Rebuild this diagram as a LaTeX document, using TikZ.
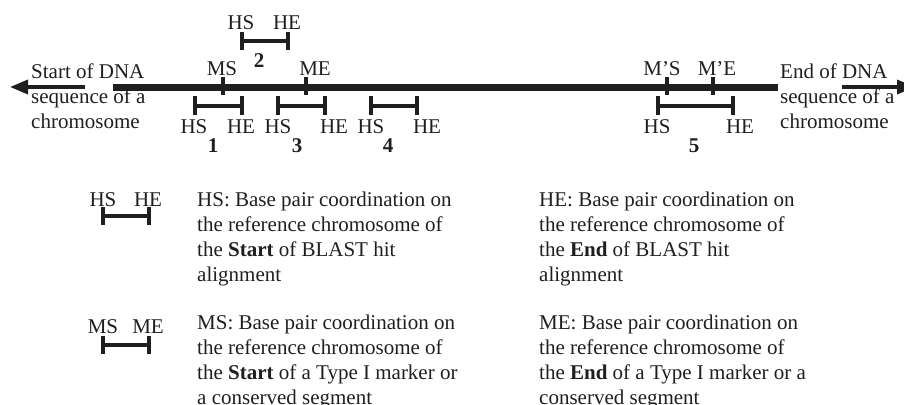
\documentclass[tikz,border=0pt]{standalone}
\usepackage{fontspec}
\setmainfont{Liberation Serif}
\usetikzlibrary{arrows.meta}
\newcommand\dfont{\fontsize{21}{25}\selectfont}
\newcommand\hitbar[4]{%
  \draw[barline] (#1,#3) -- (#1,#4);
  \draw[barline] (#2,#3) -- (#2,#4);
  \draw[barline] (#1,{(#3+#4)/2}) -- (#2,{(#3+#4)/2});}
\tikzset{
  lbl/.style={font=\dfont, inner sep=0pt, anchor=base},
  num/.style={font=\dfont\bfseries, inner sep=0pt, anchor=base},
  para/.style={font=\dfont, inner sep=0pt, anchor=base west, align=left},
  barline/.style={line width=4pt, color=black!88},
  tickline/.style={line width=4pt, color=black!88},
  chrom/.style={line width=7pt, color=black!88},
  dnaarrow/.style={line width=3.5pt, color=black!88, -{Triangle[length=18pt,width=14pt]}},
}
\begin{document}
\begin{tikzpicture}[x=1pt,y=-1pt, text=black!88]
\useasboundingbox (0,0) rectangle (904,404);
% chromosome
\coordinate (cL) at (113,87);
\coordinate (cR) at (778,87);
\draw[chrom] (cL) -- (cR);
\coordinate (laS) at (85,87);
\coordinate (laE) at (10,87);
\draw[dnaarrow] (laS) -- (laE);
\coordinate (raS) at (842,87);
\coordinate (raE) at (915,87);
\draw[dnaarrow] (raS) -- (raE);
% end texts (anchored at the baseline of the last line)
\node[para] (start) at (31,128) {Start of DNA\\sequence of a\\chromosome};
\node[para] (end) at (780,128) {End of DNA\\sequence of a\\chromosome};
% marker ticks
\foreach \x in {223,306,667,713} \draw[tickline] (\x,77) -- (\x,95);
\node[lbl] (ms) at (222,75) {MS};
\node[lbl] (me) at (315,75) {ME};
\node[lbl] (mps) at (662,75) {M’S};
\node[lbl] (mpe) at (717,75) {M’E};
% hit 2 (above)
\hitbar{242}{288}{32}{50}
\node[lbl] (hs2) at (241,30) {HS};
\node[lbl] (he2) at (287,30) {HE};
\node[num] (n2) at (259,67) {2};
% hits below
\hitbar{195}{242}{96}{115}
\hitbar{278}{325}{96}{115}
\hitbar{371}{417}{96}{115}
\hitbar{658}{733}{96}{115}
\node[lbl] (hs1) at (194,133) {HS};
\node[lbl] (he1) at (241,133) {HE};
\node[lbl] (hs3) at (278,133) {HS};
\node[lbl] (he3) at (334,133) {HE};
\node[lbl] (hs4) at (371,133) {HS};
\node[lbl] (he4) at (427,133) {HE};
\node[lbl] (hs5) at (657,133) {HS};
\node[lbl] (he5) at (740,133) {HE};
\node[num] (n1) at (213,152) {1};
\node[num] (n3) at (297,152) {3};
\node[num] (n4) at (388,152) {4};
\node[num] (n5) at (694,152) {5};
% legend
\hitbar{103}{149}{207}{225}
\node[lbl] (lhs) at (103,206) {HS};
\node[lbl] (lhe) at (148,206) {HE};
\hitbar{103}{149}{336}{354}
\node[lbl] (lms) at (103,333) {MS};
\node[lbl] (lme) at (148,333) {ME};
\node[para] (t1) at (197,281) {HS: Base pair coordination on\\the reference chromosome of\\the \textbf{Start} of BLAST hit\\alignment};
\node[para] (t2) at (539,281) {HE: Base pair coordination on\\the reference chromosome of\\the \textbf{End} of BLAST hit\\alignment};
\node[para] (t3) at (197,404) {MS: Base pair coordination on\\the reference chromosome of\\the \textbf{Start} of a Type I marker or\\a conserved segment};
\node[para] (t4) at (539,404) {ME: Base pair coordination on\\the reference chromosome of\\the \textbf{End} of a Type I marker or a\\conserved segment};
\end{tikzpicture}
\end{document}
